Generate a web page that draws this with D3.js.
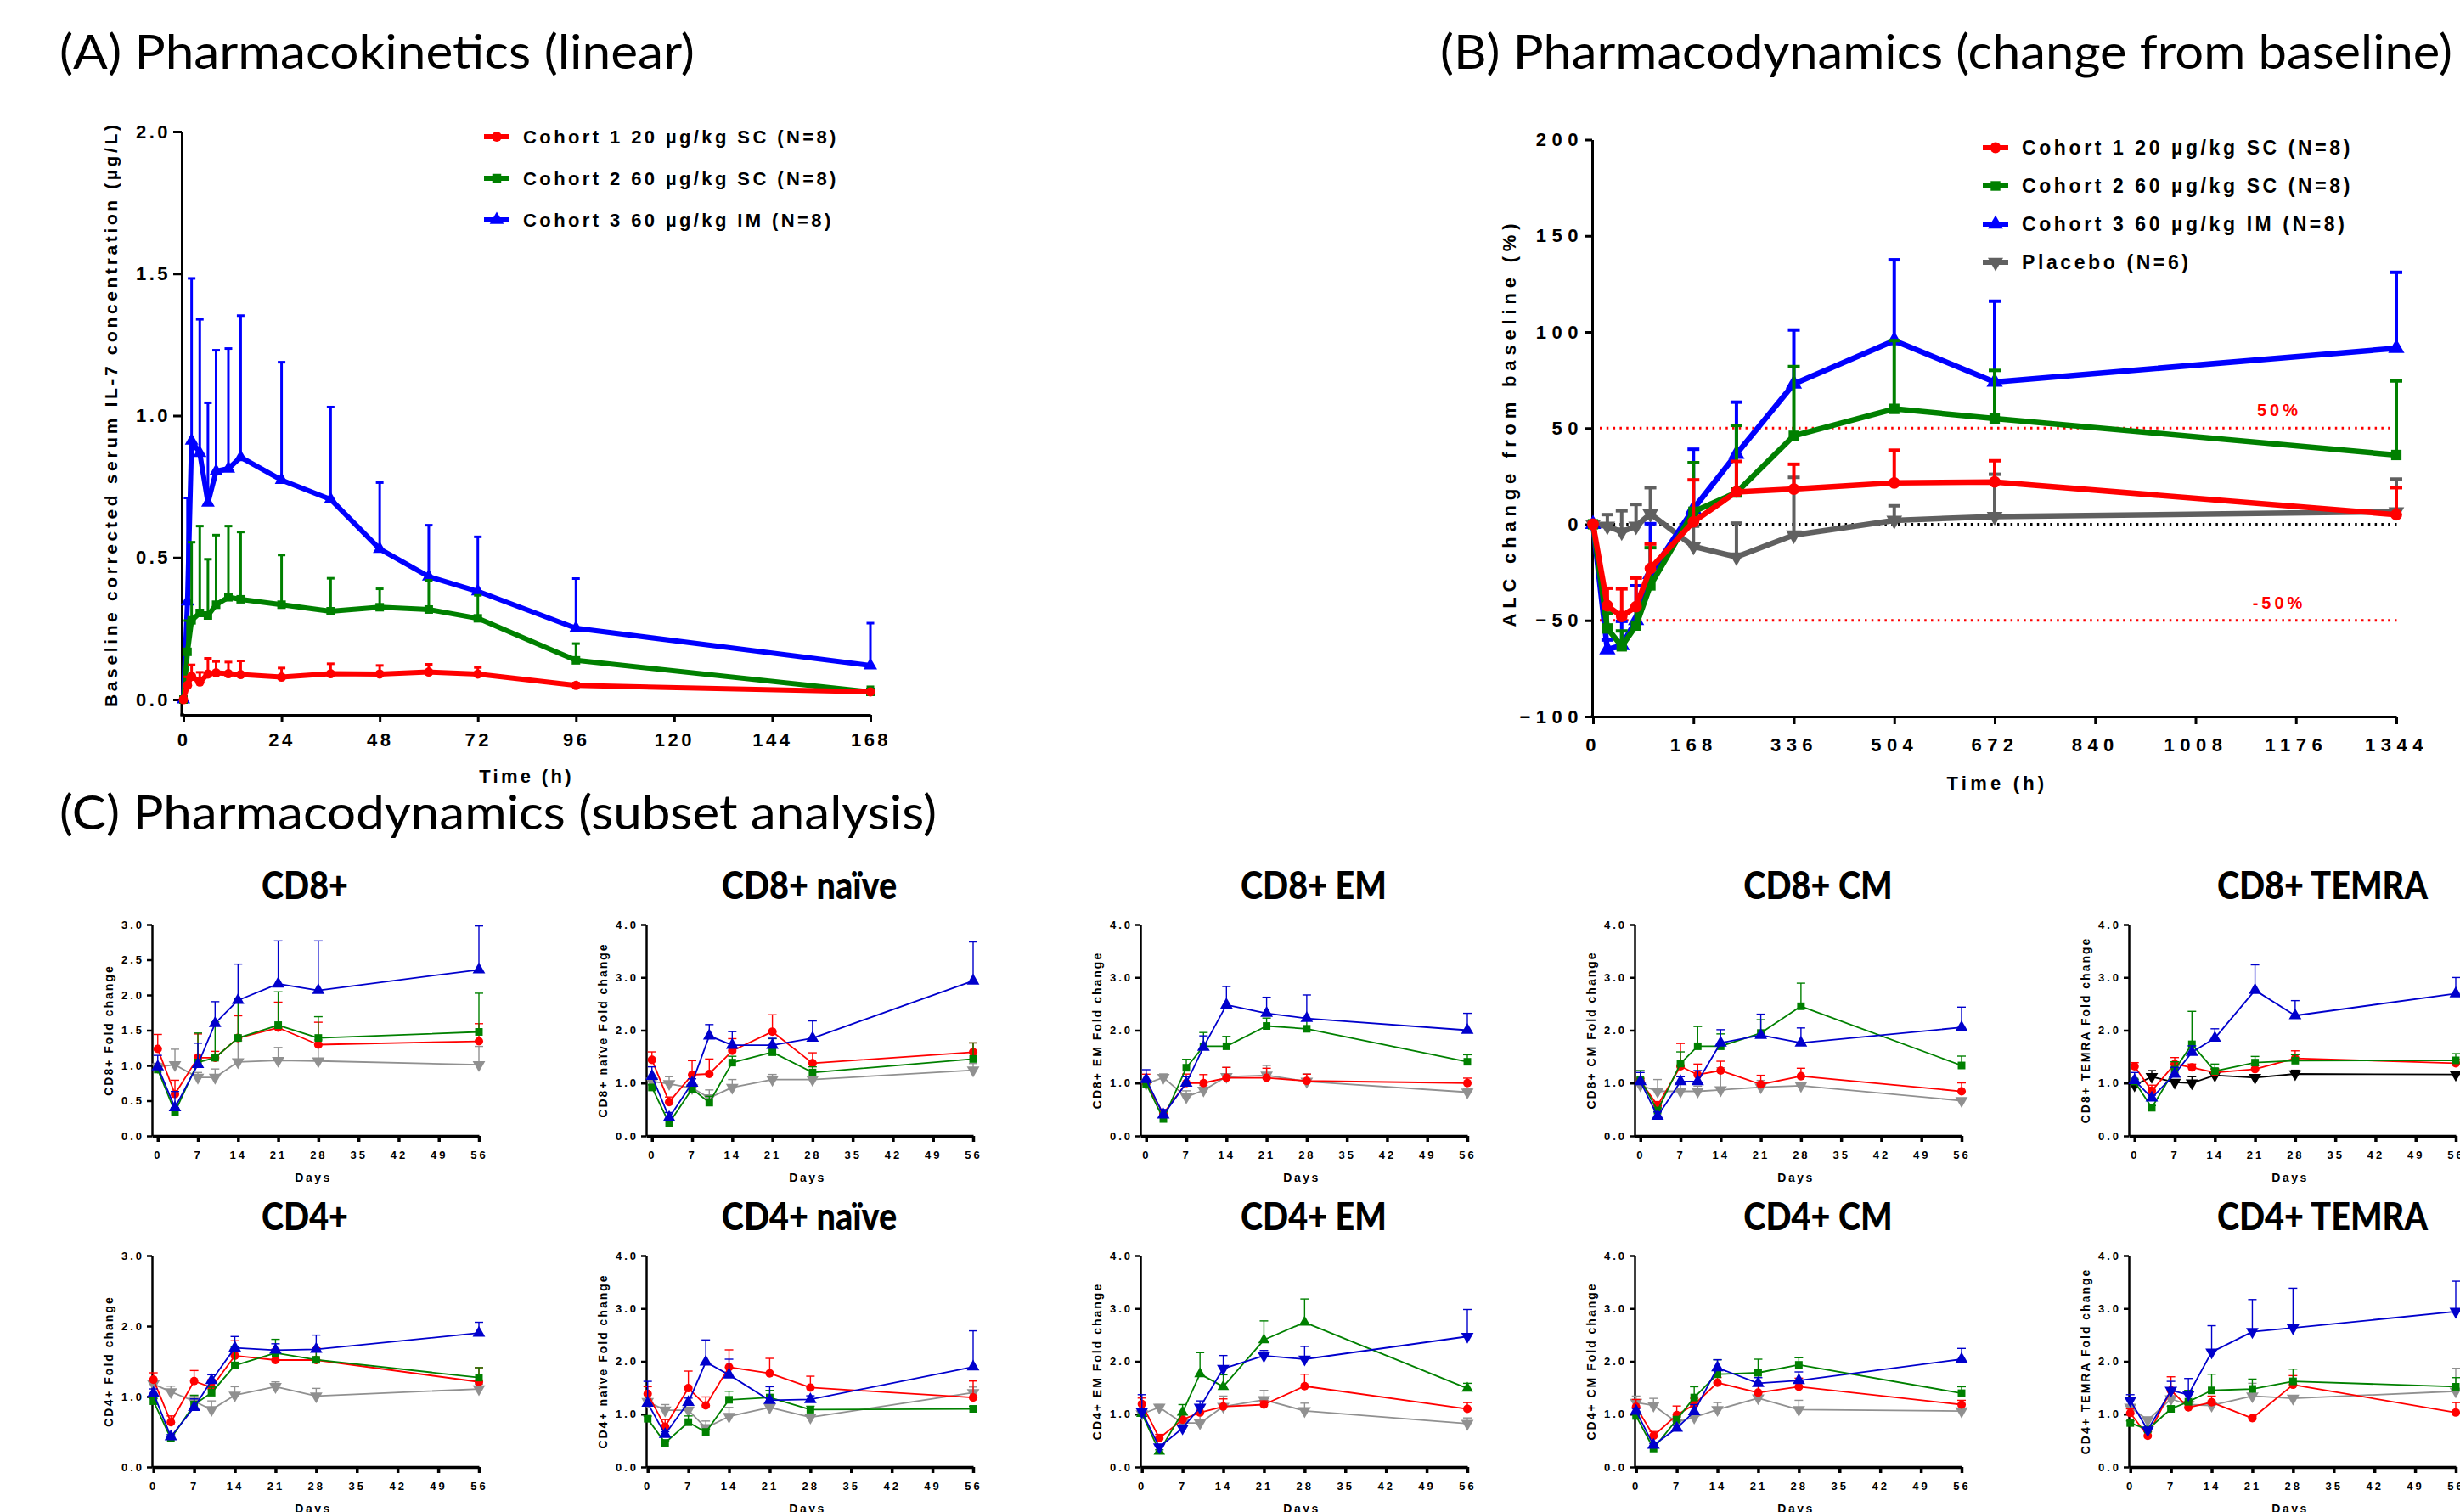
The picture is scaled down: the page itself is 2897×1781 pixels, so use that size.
<!DOCTYPE html>
<html>
<head>
<meta charset="utf-8">
<script src="https://cdn.jsdelivr.net/npm/d3@7"></script>
<style>
  body { margin: 0; background: #fff; }
  svg { display: block; }
</style>
</head>
<body>
<script>
// ---------- (A) pharmacokinetics ----------
const pkHours = [0, 1, 2, 4, 6, 8, 11, 14, 24, 36, 48, 60, 72, 96, 168];
const pkC1Mean = [0, 0.05, 0.082, 0.062, 0.09, 0.094, 0.091, 0.088, 0.079, 0.091, 0.09, 0.097, 0.09, 0.05, 0.027];
const pkC1Sd = [0, 0.03, 0.04, 0.034, 0.055, 0.04, 0.041, 0.048, 0.032, 0.035, 0.03, 0.027, 0.023, 0.008, 0.006];
const pkC2Mean = [0, 0.168, 0.279, 0.305, 0.296, 0.334, 0.36, 0.353, 0.334, 0.311, 0.325, 0.317, 0.286, 0.138, 0.027];
const pkC2Sd = [0, 0.11, 0.275, 0.306, 0.198, 0.245, 0.251, 0.237, 0.175, 0.116, 0.065, 0.103, 0.081, 0.059, 0.018];
const pkC3Mean = [0, 0.345, 0.911, 0.868, 0.693, 0.804, 0.813, 0.853, 0.773, 0.705, 0.53, 0.433, 0.381, 0.251, 0.12];
const pkC3Sd = [0, 0.365, 0.572, 0.471, 0.352, 0.426, 0.423, 0.499, 0.415, 0.325, 0.234, 0.181, 0.192, 0.175, 0.149];
const pkTicksX = [0, 24, 48, 72, 96, 120, 144, 168];
const pkTicksY = [0, 0.5, 1, 1.5, 2];

// ---------- (B) pharmacodynamics, ALC change from baseline ----------
const pdHours = [0, 24, 48, 72, 96, 168, 240, 336, 504, 672, 1344];
const pdC1Mean = [0, -42.4, -47.9, -42.9, -23, 1.3, 16.8, 18.3, 21.5, 22, 5];
const pdC1Sd = [0, 9.1, 14.3, 14.9, 12.7, 21.8, 15.9, 12.9, 17, 11, 14];
const pdC2Mean = [0, -54.2, -63.5, -52.7, -31.8, 6.5, 16.5, 46, 60, 55, 36];
const pdC2Sd = [0, 8, 8, 8, 19.6, 25.5, 34.9, 36, 35.5, 25, 38.5];
const pdC3Mean = [0, -65.2, -63, -50, -26, 8, 36.5, 73, 95.5, 74, 91.5];
const pdC3Sd = [0, 5, 12.5, 18, 26.3, 31, 27, 28, 42, 42, 39.5];
const pdPlMean = [0, -1, -4, -1, 5.4, -11.5, -17, -5.6, 2, 4, 6.5];
const pdPlSd = [0, 6, 11, 11.3, 13.6, 10.5, 17.6, 30, 7.6, 22, 17];
const pdTicksX = [0, 168, 336, 504, 672, 840, 1008, 1176, 1344];
const pdTicksY = [-100, -50, 0, 50, 100, 150, 200];

const cohortLabels = ['Cohort 1 20 µg/kg SC (N=8)', 'Cohort 2 60 µg/kg SC (N=8)', 'Cohort 3 60 µg/kg IM (N=8)', 'Placebo (N=6)'];

// ---------- (C) subset analysis, fold change ----------
// each row of a table: cohort 1, cohort 2, cohort 3, placebo
const subsetDays = [0, 3, 7, 10, 14, 21, 28, 56];
const dayTicks = [0, 7, 14, 21, 28, 35, 42, 49, 56];
const subsetNames = ['CD8+', 'CD8+ naïve', 'CD8+ EM', 'CD8+ CM', 'CD8+ TEMRA',
                     'CD4+', 'CD4+ naïve', 'CD4+ EM', 'CD4+ CM', 'CD4+ TEMRA'];
const subsetYMax = [3, 4, 4, 4, 4, 3, 4, 4, 4, 4];
const subsetYStep = [0.5, 1, 1, 1, 1, 1, 1, 1, 1, 1];

const cd8Mean = [[1.235, 0.594, 1.11, 1.11, 1.39, 1.536, 1.295, 1.343],
                 [0.942, 0.34, 1.043, 1.11, 1.39, 1.572, 1.39, 1.476],
                 [0.982, 0.4, 1.015, 1.596, 1.925, 2.158, 2.066, 2.358],
                 [0.98, 1.01, 0.83, 0.83, 1.05, 1.07, 1.063, 1.01]];
const cd8Sd = [[0.205, 0.196, 0.337, 0.09, 0.315, 0.362, 0.318, 0.25],
               [0.04, 0.06, 0.417, 0.506, 0.555, 0.473, 0.302, 0.549],
               [0.161, 0.23, 0.3, 0.309, 0.513, 0.609, 0.701, 0.622],
               [0.05, 0.22, 0.07, 0.12, 0.3, 0.185, 0.3, 0.26]];
const cd8NaiveMean = [[1.44, 0.64, 1.157, 1.173, 1.61, 1.973, 1.376, 1.584],
                      [0.917, 0.24, 0.89, 0.63, 1.387, 1.584, 1.2, 1.456],
                      [1.13, 0.347, 1.0, 1.893, 1.717, 1.717, 1.85, 2.933],
                      [1.03, 0.987, 0.907, 0.72, 0.917, 1.067, 1.067, 1.243]];
const cd8NaiveSd = [[0.15, 0.096, 0.267, 0.283, 0.23, 0.32, 0.197, 0.176],
                    [0.05, 0.05, 0.08, 0.12, 0.12, 0.256, 0.107, 0.304],
                    [0.177, 0.096, 0.08, 0.214, 0.256, 0.13, 0.326, 0.737],
                    [0.05, 0.133, 0.06, 0.15, 0.15, 0.096, 0.06, 0.127]];
const cd8EmMean = [[1.0, 0.42, 1.0, 1.0, 1.1, 1.1, 1.04, 1.0],
                   [0.987, 0.32, 1.29, 1.696, 1.696, 2.08, 2.027, 1.403],
                   [1.067, 0.4, 1.0, 1.68, 2.48, 2.32, 2.224, 2.0],
                   [0.987, 1.104, 0.736, 0.864, 1.12, 1.147, 1.03, 0.827]];
const cd8EmSd = [[0.168, 0.05, 0.17, 0.16, 0.196, 0.18, 0.128, 0.093],
                 [0.05, 0.05, 0.16, 0.261, 0.187, 0.15, 0.16, 0.133],
                 [0.186, 0.1, 0.12, 0.213, 0.347, 0.304, 0.443, 0.32],
                 [0.05, 0.069, 0.117, 0.09, 0.176, 0.186, 0.143, 0.07]];
const cd8CmMean = [[1.04, 0.576, 1.317, 1.157, 1.237, 0.976, 1.13, 0.843],
                   [1.067, 0.48, 1.37, 1.696, 1.696, 1.947, 2.453, 1.333],
                   [1.03, 0.373, 1.03, 1.03, 1.76, 1.904, 1.76, 2.053],
                   [0.96, 0.843, 0.843, 0.843, 0.87, 0.923, 0.95, 0.667]];
const cd8CmSd = [[0.05, 0.074, 0.432, 0.203, 0.176, 0.171, 0.15, 0.16],
                 [0.17, 0.05, 0.22, 0.374, 0.234, 0.253, 0.437, 0.177],
                 [0.17, 0.08, 0.09, 0.207, 0.25, 0.4, 0.283, 0.384],
                 [0.05, 0.224, 0.277, 0.1, 0.42, 0.127, 0.05, 0.04]];
const cd8TemraMean = [[1.317, 0.853, 1.36, 1.296, 1.2, 1.264, 1.467, 1.376],
                      [1.03, 0.533, 1.253, 1.733, 1.227, 1.387, 1.424, 1.43],
                      [1.05, 0.72, 1.168, 1.584, 1.85, 2.757, 2.277, 2.693],
                      [0.96, 1.12, 1.013, 1.0, 1.147, 1.104, 1.173, 1.163]];
const cd8TemraSd = [[0.07, 0.107, 0.123, 0.064, 0.064, 0.069, 0.143, 0.07],
                    [0.04, 0.04, 0.15, 0.624, 0.133, 0.117, 0.112, 0.127],
                    [0.15, 0.05, 0.13, 0.12, 0.177, 0.48, 0.283, 0.304],
                    [0.04, 0.117, 0.05, 0.12, 0.123, 0.05, 0.07, 0.04]];
const cd4Mean = [[1.24, 0.636, 1.22, 1.128, 1.579, 1.518, 1.518, 1.208],
                 [0.934, 0.403, 0.886, 1.055, 1.442, 1.619, 1.522, 1.269],
                 [1.047, 0.43, 0.846, 1.228, 1.691, 1.659, 1.671, 1.901],
                 [1.176, 1.067, 0.934, 0.814, 1.019, 1.14, 1.007, 1.108]];
const cd4Sd = [[0.097, 0.089, 0.149, 0.112, 0.213, 0.153, 0.173, 0.202],
               [0.04, 0.03, 0.133, 0.08, 0.26, 0.193, 0.13, 0.141],
               [0.061, 0.03, 0.121, 0.081, 0.161, 0.09, 0.201, 0.153],
               [0.04, 0.08, 0.07, 0.124, 0.121, 0.068, 0.109, 0.068]];
const cd4NaiveMean = [[1.385, 0.762, 1.493, 1.165, 1.89, 1.772, 1.503, 1.315],
                      [0.913, 0.456, 0.848, 0.66, 1.272, 1.315, 1.085, 1.1],
                      [1.208, 0.617, 1.224, 1.987, 1.745, 1.262, 1.278, 1.895],
                      [1.235, 1.074, 1.074, 0.741, 0.956, 1.128, 0.94, 1.407]];
const cd4NaiveSd = [[0.135, 0.135, 0.322, 0.161, 0.327, 0.284, 0.215, 0.312],
                    [0.05, 0.04, 0.118, 0.06, 0.162, 0.135, 0.065, 0.05],
                    [0.413, 0.05, 0.08, 0.418, 0.295, 0.258, 0.07, 0.682],
                    [0.05, 0.107, 0.05, 0.129, 0.172, 0.07, 0.05, 0.107]];
const cd4EmMean = [[1.192, 0.547, 0.897, 1.031, 1.144, 1.181, 1.53, 1.1],
                   [1.01, 0.295, 1.036, 1.761, 1.52, 2.405, 2.738, 1.487],
                   [1.047, 0.376, 0.736, 1.128, 1.863, 2.105, 2.04, 2.47],
                   [1.004, 1.128, 0.832, 0.832, 1.144, 1.272, 1.063, 0.822]];
const cd4EmSd = [[0.113, 0.07, 0.096, 0.134, 0.145, 0.07, 0.226, 0.119],
                 [0.04, 0.03, 0.145, 0.403, 0.225, 0.36, 0.441, 0.097],
                 [0.322, 0.05, 0.06, 0.123, 0.247, 0.1, 0.242, 0.51],
                 [0.05, 0.053, 0.07, 0.322, 0.198, 0.178, 0.145, 0.107]];
const cd4CmMean = [[1.138, 0.591, 0.983, 1.181, 1.595, 1.407, 1.519, 1.181],
                   [0.966, 0.349, 0.897, 1.315, 1.756, 1.783, 1.933, 1.396],
                   [1.058, 0.413, 0.736, 1.047, 1.879, 1.584, 1.638, 2.04],
                   [1.219, 1.165, 0.848, 0.94, 1.085, 1.305, 1.085, 1.058]];
const cd4CmSd = [[0.14, 0.08, 0.171, 0.12, 0.1, 0.15, 0.162, 0.081],
                 [0.04, 0.03, 0.05, 0.204, 0.274, 0.257, 0.134, 0.123],
                 [0.05, 0.03, 0.05, 0.134, 0.151, 0.107, 0.161, 0.204],
                 [0.123, 0.134, 0.05, 0.06, 0.134, 0.091, 0.177, 0.04]];
const cd4TemraMean = [[1.02, 0.591, 1.45, 1.128, 1.224, 0.923, 1.557, 1.031],
                      [0.832, 0.709, 1.1, 1.235, 1.45, 1.477, 1.621, 1.519],
                      [1.262, 0.698, 1.45, 1.369, 2.174, 2.561, 2.631, 2.942],
                      [1.128, 0.886, 1.289, 1.181, 1.165, 1.342, 1.299, 1.434]];
const cd4TemraSd = [[0.08, 0.08, 0.257, 0.107, 0.118, 0.03, 0.172, 0.188],
                    [0.04, 0.04, 0.05, 0.215, 0.306, 0.187, 0.231, 0.172],
                    [0.107, 0.05, 0.171, 0.306, 0.5, 0.607, 0.752, 0.575],
                    [0.171, 0.06, 0.06, 0.05, 0.085, 0.242, 0.05, 0.434]];

const subsetMean = [cd8Mean, cd8NaiveMean, cd8EmMean, cd8CmMean, cd8TemraMean,
                    cd4Mean, cd4NaiveMean, cd4EmMean, cd4CmMean, cd4TemraMean];
const subsetSd = [cd8Sd, cd8NaiveSd, cd8EmSd, cd8CmSd, cd8TemraSd,
                  cd4Sd, cd4NaiveSd, cd4EmSd, cd4CmSd, cd4TemraSd];

// ---------- drawing ----------
const axFont = '"Liberation Sans", Arial, sans-serif';
const titleFont = 'Lato, "Open Sans", sans-serif';

const svg = d3.select('body').append('svg')
    .attr('width', 2897)
    .attr('height', 1781);

function styleAxis(g, lw, fs, ls) {
    g.select('.domain').attr('stroke-width', lw);
    g.selectAll('.tick line').attr('stroke-width', lw);
    g.selectAll('.tick text')
        .attr('font-family', axFont)
        .attr('font-weight', 'bold')
        .attr('font-size', fs)
        .style('letter-spacing', ls + 'px');
}

function label(g, text, x, y, fs, ls, rotate) {
    const t = g.append('text')
        .attr('font-family', axFont)
        .attr('font-weight', 'bold')
        .attr('font-size', fs)
        .attr('text-anchor', 'middle')
        .attr('dy', '0.35em')
        .style('letter-spacing', ls + 'px')
        .text(text);
    if (rotate) t.attr('transform', `translate(${x},${y}) rotate(-90)`);
    else t.attr('x', x).attr('y', y);
    return t;
}

function symbolPath(shape, size) {
    const type = shape === 'circle' ? d3.symbolCircle
        : shape === 'square' ? d3.symbolSquare : d3.symbolTriangle;
    return d3.symbol().type(type).size(size)();
}

function marker(g, shape, size, color, x, y) {
    g.append('path')
        .attr('d', symbolPath(shape, size))
        .attr('fill', color)
        .attr('transform', `translate(${x},${y})` + (shape === 'down' ? ' rotate(180)' : ''));
}

function drawSeries(g, x, y, times, mean, sd, s) {
    const pts = times.map((t, i) => ({ t, m: mean[i], e: sd[i] }));
    const eb = g.append('g').attr('stroke', s.color).attr('stroke-width', s.ebw);
    pts.forEach(p => {
        if (!p.e) return;
        const px = x(p.t), top = y(p.m + p.e);
        eb.append('line').attr('x1', px).attr('x2', px).attr('y1', y(p.m)).attr('y2', top);
        eb.append('line').attr('x1', px - s.cap / 2).attr('x2', px + s.cap / 2).attr('y1', top).attr('y2', top);
    });
    g.append('path')
        .datum(pts)
        .attr('fill', 'none')
        .attr('stroke', s.color)
        .attr('stroke-width', s.lw)
        .attr('stroke-linejoin', 'round')
        .attr('d', d3.line().x(p => x(p.t)).y(p => y(p.m)));
    pts.forEach(p => marker(g, s.shape, s.size, s.color, x(p.t), y(p.m)));
}

function legend(g, items, x, y0, dy, fs, ls) {
    items.forEach((it, i) => {
        const cy = y0 + dy * i;
        g.append('line').attr('x1', x).attr('x2', x + 30).attr('y1', cy).attr('y2', cy)
            .attr('stroke', it.color).attr('stroke-width', 6);
        marker(g, it.shape, it.size, it.color, x + 15, cy);
        g.append('text')
            .attr('x', x + 46).attr('y', cy).attr('dy', '0.36em')
            .attr('font-family', axFont).attr('font-weight', 'bold').attr('font-size', fs)
            .style('letter-spacing', ls + 'px')
            .text(it.text);
    });
}

function panelTitle(text, x, y, len) {
    svg.append('text')
        .attr('x', x).attr('y', y)
        .attr('font-family', titleFont).attr('font-size', 56)
        .attr('textLength', len).attr('lengthAdjust', 'spacingAndGlyphs')
        .text(text);
}

// ----- panel A -----
panelTitle('(A) Pharmacokinetics (linear)', 70, 81, 748);
const gA = svg.append('g');
const xA = d3.scaleLinear().domain([0, 168]).range([216, 1025]);
const yA = d3.scaleLinear().domain([0, 2]).range([824, 155]);

const ayA = gA.append('g').attr('transform', 'translate(214,0)')
    .call(d3.axisLeft(yA).tickValues(pkTicksY).tickFormat(d3.format('.1f'))
        .tickSize(10).tickSizeOuter(0).tickPadding(3));
styleAxis(ayA, 3, 22, 3.5);
gA.append('line').attr('x1', 214).attr('x2', 214).attr('y1', 823).attr('y2', 843.5)
    .attr('stroke', '#000').attr('stroke-width', 3);
const axA = gA.append('g').attr('transform', 'translate(0,842)')
    .call(d3.axisBottom(xA).tickValues(pkTicksX).tickFormat(d3.format('d'))
        .tickSize(9).tickSizeOuter(0).tickPadding(12));
styleAxis(axA, 3, 22, 3.5);
gA.append('line').attr('x1', 212.5).attr('x2', 217).attr('y1', 842).attr('y2', 842)
    .attr('stroke', '#000').attr('stroke-width', 3);
label(gA, 'Time (h)', 620, 914, 22, 3.3);
label(gA, 'Baseline corrected serum IL-7 concentration (µg/L)', 131, 490, 21, 0, true)
    .attr('textLength', 686).attr('lengthAdjust', 'spacing');

const styA = { lw: 6, ebw: 3, cap: 9 };
drawSeries(gA, xA, yA, pkHours, pkC3Mean, pkC3Sd, { ...styA, color: '#0000ff', shape: 'up', size: 110 });
drawSeries(gA, xA, yA, pkHours, pkC2Mean, pkC2Sd, { ...styA, color: '#008000', shape: 'square', size: 100 });
drawSeries(gA, xA, yA, pkHours, pkC1Mean, pkC1Sd, { ...styA, color: '#ff0000', shape: 'circle', size: 95 });
legend(gA, [
    { text: cohortLabels[0], color: '#ff0000', shape: 'circle', size: 110 },
    { text: cohortLabels[1], color: '#008000', shape: 'square', size: 110 },
    { text: cohortLabels[2], color: '#0000ff', shape: 'up', size: 120 }
], 570, 161, 49, 22, 3.4);

// ----- panel B -----
panelTitle('(B) Pharmacodynamics (change from baseline)', 1696, 81, 1192);
const gB = svg.append('g');
const xB = d3.scaleLinear().domain([0, 1344]).range([1876, 2822]);
const yB = d3.scaleLinear().domain([-100, 200]).range([844, 164.5]);

const ayB = gB.append('g').attr('transform', 'translate(1875,0)')
    .call(d3.axisLeft(yB).tickValues(pdTicksY).tickFormat(d3.format('d'))
        .tickSize(9).tickSizeOuter(0).tickPadding(1));
styleAxis(ayB, 3, 22, 6.5);
const axB = gB.append('g').attr('transform', 'translate(0,844)')
    .call(d3.axisBottom(xB).tickValues(pdTicksX).tickFormat(d3.format('d'))
        .tickSize(9).tickSizeOuter(0).tickPadding(16));
styleAxis(axB, 3, 22, 6.5);
gB.append('line').attr('x1', 1873.5).attr('x2', 1877).attr('y1', 844).attr('y2', 844)
    .attr('stroke', '#000').attr('stroke-width', 3);
label(gB, 'Time (h)', 2352, 922, 22, 4.2);
label(gB, 'ALC change from baseline (%)', 1777, 501, 22, 0, true)
    .attr('textLength', 475).attr('lengthAdjust', 'spacing');

[[50, '#ff0000'], [-50, '#ff0000'], [0, '#000']].forEach(([v, c]) => {
    gB.append('line').attr('x1', 1884).attr('x2', 2824).attr('y1', yB(v)).attr('y2', yB(v))
        .attr('stroke', c).attr('stroke-width', 3).attr('stroke-dasharray', '2.5,5.3');
});
label(gB, '50%', 2684, yB(50) - 21, 20, 4).attr('fill', '#ff0000');
label(gB, '-50%', 2684, yB(-50) - 21, 20, 4).attr('fill', '#ff0000');

const styB = { lw: 6.5, ebw: 4, cap: 14 };
drawSeries(gB, xB, yB, pdHours, pdPlMean, pdPlSd, { ...styB, color: '#606060', shape: 'down', size: 150 });
drawSeries(gB, xB, yB, pdHours, pdC3Mean, pdC3Sd, { ...styB, color: '#0000ff', shape: 'up', size: 160 });
drawSeries(gB, xB, yB, pdHours, pdC2Mean, pdC2Sd, { ...styB, color: '#008000', shape: 'square', size: 150 });
drawSeries(gB, xB, yB, pdHours, pdC1Mean, pdC1Sd, { ...styB, color: '#ff0000', shape: 'circle', size: 150 });
legend(gB, [
    { text: cohortLabels[0], color: '#ff0000', shape: 'circle', size: 130 },
    { text: cohortLabels[1], color: '#008000', shape: 'square', size: 130 },
    { text: cohortLabels[2], color: '#0000ff', shape: 'up', size: 140 },
    { text: cohortLabels[3], color: '#606060', shape: 'down', size: 140 }
], 2335, 174, 45, 23, 3.6);

// ----- panel C -----
panelTitle('(C) Pharmacodynamics (subset analysis)', 70, 977, 1033);

subsetNames.forEach((name, k) => {
    const row = Math.floor(k / 5), col = k % 5;
    const ax = 179 + 582 * col;
    const top = row ? 1479 : 1089, bottom = top + 249;
    const g = svg.append('g');
    const x = d3.scaleLinear().domain([row ? -0.25 : -1, 56]).range([ax, ax + 385]);
    const y = d3.scaleLinear().domain([0, subsetYMax[k]]).range([bottom, top]);

    const t = g.append('text')
        .attr('x', ax + 180 + 12 * col).attr('y', top - 30)
        .attr('text-anchor', 'middle')
        .attr('font-family', titleFont).attr('font-weight', 900).attr('font-size', 45)
        .text(name);
    t.attr('textLength', t.node().getComputedTextLength() * 0.88).attr('lengthAdjust', 'spacingAndGlyphs');

    const ay = g.append('g').attr('transform', `translate(${ax},0)`)
        .call(d3.axisLeft(y).tickValues(d3.range(0, subsetYMax[k] + 1e-9, subsetYStep[k]))
            .tickFormat(d3.format('.1f')).tickSize(6).tickSizeOuter(0).tickPadding(3));
    styleAxis(ay, 2.5, 13, 3);
    const axg = g.append('g').attr('transform', `translate(0,${bottom})`)
        .call(d3.axisBottom(x).tickValues(dayTicks).tickFormat(d3.format('d'))
            .tickSize(7).tickSizeOuter(0).tickPadding(11));
    styleAxis(axg, 3.5, 13, 3);
    label(g, 'Days', ax + 190, bottom + 49, 14, 2.5);
    label(g, name + ' Fold change', ax - 51, (top + bottom) / 2, 14, 2, true);

    const shapes = name === 'CD4+ EM' ? ['circle', 'up', 'down', 'down']
        : name === 'CD4+ TEMRA' ? ['circle', 'square', 'down', 'down']
        : ['circle', 'square', 'up', 'down'];
    const colors = ['#ff0000', '#008000', '#0000cc', name === 'CD8+ TEMRA' ? '#000000' : '#909090'];
    const sizes = [80, 80, 95, 95];
    [3, 0, 1, 2].forEach(s => {
        drawSeries(g, x, y, subsetDays, subsetMean[k][s], subsetSd[k][s],
            { color: colors[s], shape: shapes[s], size: sizes[s], lw: 1.8, ebw: 1.4, cap: 10 });
    });
});
</script>
</body>
</html>
